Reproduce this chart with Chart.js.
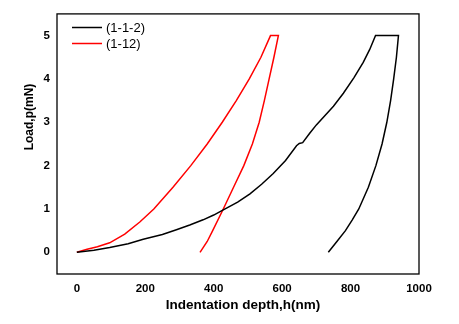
<!DOCTYPE html>
<html>
<head>
<meta charset="utf-8">
<script src="https://cdn.jsdelivr.net/npm/chart.js@4/dist/chart.umd.min.js"></script>
<style>
html,body{margin:0;padding:0;background:#fff;}
#wrap{width:459px;height:324px;position:relative;}
</style>
</head>
<body>
<div id="wrap"><canvas id="c" width="459" height="324"></canvas></div>
<script>
// Sample labels
const seriesNames = ["(1-1-2)", "(1-12)"];
const seriesColors = ["#000000", "#ff0000"];

// (1-1-2): loading, hold, unloading  (depth nm, load mN)
const depth112 = [0, 50, 96, 150, 194, 250, 291, 330, 369, 400, 428, 470, 506, 540, 574, 610, 642, 650, 660, 680, 700, 750, 779, 810, 837, 856, 873,
                  940, 934, 926, 917, 906, 892, 874, 852, 824, 805, 785, 760, 735];
const load112  = [0, 0.05, 0.11, 0.20, 0.30, 0.41, 0.52, 0.63, 0.75, 0.86, 0.98, 1.16, 1.35, 1.57, 1.82, 2.12, 2.46, 2.51, 2.53, 2.74, 2.94, 3.37, 3.67, 4.03, 4.38, 4.68, 5.0,
                  5.0, 4.5, 4.0, 3.5, 3.0, 2.5, 2.0, 1.5, 1.0, 0.75, 0.5, 0.25, 0];

// (1-12): loading, hold, unloading
const depth12 = [0, 30, 60, 96, 140, 184, 225, 281, 333, 381, 425, 466, 504, 538, 566,
                 589, 576, 562, 548, 533, 513, 488, 458, 428, 397, 381, 360];
const load12  = [0, 0.07, 0.13, 0.22, 0.42, 0.70, 1.0, 1.5, 2.0, 2.5, 3.0, 3.5, 4.0, 4.5, 5.0,
                 5.0, 4.5, 4.0, 3.5, 3.0, 2.5, 2.0, 1.5, 1.0, 0.5, 0.25, 0];

// Axis ticks
const xTicks = [0, 200, 400, 600, 800, 1000];
const yTicks = [0, 1, 2, 3, 4, 5];
const xTitle = "Indentation depth,h(nm)";
const yTitle = "Load,p(mN)";

const toPts = (xs, ys) => xs.map((x, i) => ({x: x, y: ys[i]}));

const FONT = "'Liberation Sans', Arial, sans-serif";

const decor = {
  id: 'decor',
  afterDraw(chart) {
    const ctx = chart.ctx;
    const a = chart.chartArea;
    ctx.save();
    // frame
    ctx.strokeStyle = '#000';
    ctx.lineWidth = 1.3;
    ctx.strokeRect(a.left, a.top, a.right - a.left, a.bottom - a.top);
    // legend
    ctx.font = "13px " + FONT;
    ctx.textBaseline = 'middle';
    ctx.textAlign = 'left';
    chart.data.datasets.forEach((ds, i) => {
      const y = 27.5 + i * 16;
      ctx.strokeStyle = ds.borderColor;
      ctx.lineWidth = 1.5;
      ctx.beginPath();
      ctx.moveTo(72, y);
      ctx.lineTo(102, y);
      ctx.stroke();
      ctx.fillStyle = '#000';
      ctx.fillText(ds.label, 106, y + 0.5);
    });
    // axis titles
    ctx.fillStyle = '#000';
    ctx.font = "bold 13.5px " + FONT;
    ctx.textAlign = 'center';
    ctx.textBaseline = 'middle';
    ctx.fillText(xTitle, 243, 305);
    ctx.save();
    ctx.translate(30, 117);
    ctx.rotate(-Math.PI / 2);
    ctx.font = "bold 12px " + FONT;
    ctx.fillText(yTitle, 0, 0);
    ctx.restore();
    ctx.restore();
  }
};

new Chart(document.getElementById('c'), {
  type: 'line',
  data: {
    datasets: [
      {label: seriesNames[0], data: toPts(depth112, load112), borderColor: seriesColors[0], borderWidth: 1.5, pointRadius: 0, tension: 0, fill: false},
      {label: seriesNames[1], data: toPts(depth12, load12), borderColor: seriesColors[1], borderWidth: 1.5, pointRadius: 0, tension: 0, fill: false}
    ]
  },
  options: {
    responsive: false,
    animation: false,
    layout: {padding: {left: 0, right: 40, top: 4, bottom: 0}},
    plugins: {legend: {display: false}, tooltip: {enabled: false}},
    scales: {
      x: {
        type: 'linear', min: -58, max: 1000,
        grid: {display: false, drawTicks: false},
        border: {display: false},
        afterBuildTicks: s => { s.ticks = xTicks.map(v => ({value: v})); },
        afterFit: s => { s.height = 50; },
        ticks: {color: '#000', padding: 8, font: {family: FONT, size: 11.5, weight: 'bold'}, maxRotation: 0,
                callback: v => String(v)}
      },
      y: {
        type: 'linear', min: -0.5, max: 5.5,
        grid: {display: false, drawTicks: false},
        border: {display: false},
        afterBuildTicks: s => { s.ticks = yTicks.map(v => ({value: v})); },
        afterFit: s => { s.width = 57; },
        ticks: {color: '#000', padding: 7, font: {family: FONT, size: 11.5, weight: 'bold'},
                callback: v => String(v)}
      }
    }
  },
  plugins: [decor]
});
</script>
</body>
</html>
